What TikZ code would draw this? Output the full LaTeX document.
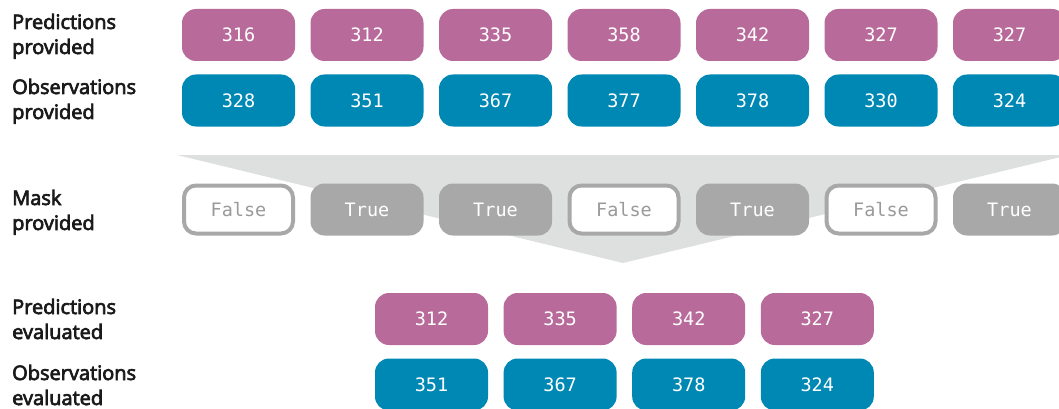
\documentclass[tikz,border=0pt]{standalone}
\usepackage{fontspec}
\setmainfont{Open Sans}
\newfontfamily\lblfont{Open Sans}[FakeBold=3.5]
\newfontfamily\valfont{DejaVu Sans Mono}
\definecolor{predcol}{HTML}{B86B9A}
\definecolor{obscol}{HTML}{0088B4}
\definecolor{maskcol}{HTML}{A8A8A8}
\definecolor{funnelcol}{HTML}{DEDFDF}
\definecolor{falsetext}{HTML}{9A9A9A}
\definecolor{labeltext}{HTML}{1A1A1A}
\tikzset{
  cell/.style={rounded corners=14pt, minimum width=113pt, minimum height=52pt,
    inner sep=0pt, text=white, font=\valfont\fontsize{18.5}{20}\selectfont},
  predcell/.style={cell, fill=predcol},
  obscell/.style={cell, fill=obscol},
  truecell/.style={cell, fill=maskcol},
  falsecell/.style={cell, fill=white, draw=maskcol, line width=4pt,
    minimum width=109pt, minimum height=48pt, rounded corners=12pt, text=falsetext},
  rowlabel/.style={anchor=base west, inner sep=0pt, text=labeltext,
    font=\lblfont\fontsize{20}{25}\selectfont}
}
\begin{document}
\begin{tikzpicture}[x=1pt, y=-1pt]
\useasboundingbox (0,0) rectangle (1059,409);
\clip (0,0) rectangle (1059,409);

% row labels, one node per line, placed on their baselines
\node[rowlabel] (lp1a) at (12,29) {Predictions};
\node[rowlabel] (lp1b) at (12,54) {provided};
\node[rowlabel] (lo1a) at (12,94) {Observations};
\node[rowlabel] (lo1b) at (12,119) {provided};
\node[rowlabel] (lma) at (12,205) {Mask};
\node[rowlabel] (lmb) at (12,230) {provided};
\node[rowlabel] (lp2a) at (12,314) {Predictions};
\node[rowlabel] (lp2b) at (12,339) {evaluated};
\node[rowlabel] (lo2a) at (12,380) {Observations};
\node[rowlabel] (lo2b) at (12,405) {evaluated};

% funnel behind the mask row
\fill[funnelcol] (177,155) -- (1069,155) -- (623,263) -- cycle;

% provided values
\foreach \v [count=\i from 0] in {316,312,335,358,342,327,327}
  \node[predcell] (p\i) at (238.5+128.5*\i,35) {\v};
\foreach \v [count=\i from 0] in {328,351,367,377,378,330,324}
  \node[obscell] (o\i) at (238.5+128.5*\i,100.5) {\v};

% mask
\foreach \m [count=\i from 0] in {0,1,1,0,1,0,1}{
  \ifnum\m=1
    \node[truecell] (m\i) at (238.5+128.5*\i,209.5) {True};
  \else
    \node[falsecell] (m\i) at (238.5+128.5*\i,209.5) {False};
  \fi
}

% evaluated values
\foreach \v [count=\i from 0] in {312,335,342,327}
  \node[predcell] (pe\i) at (431.5+128.6*\i,319) {\v};
\foreach \v [count=\i from 0] in {351,367,378,324}
  \node[obscell] (oe\i) at (431.5+128.6*\i,384.5) {\v};
\end{tikzpicture}
\end{document}
